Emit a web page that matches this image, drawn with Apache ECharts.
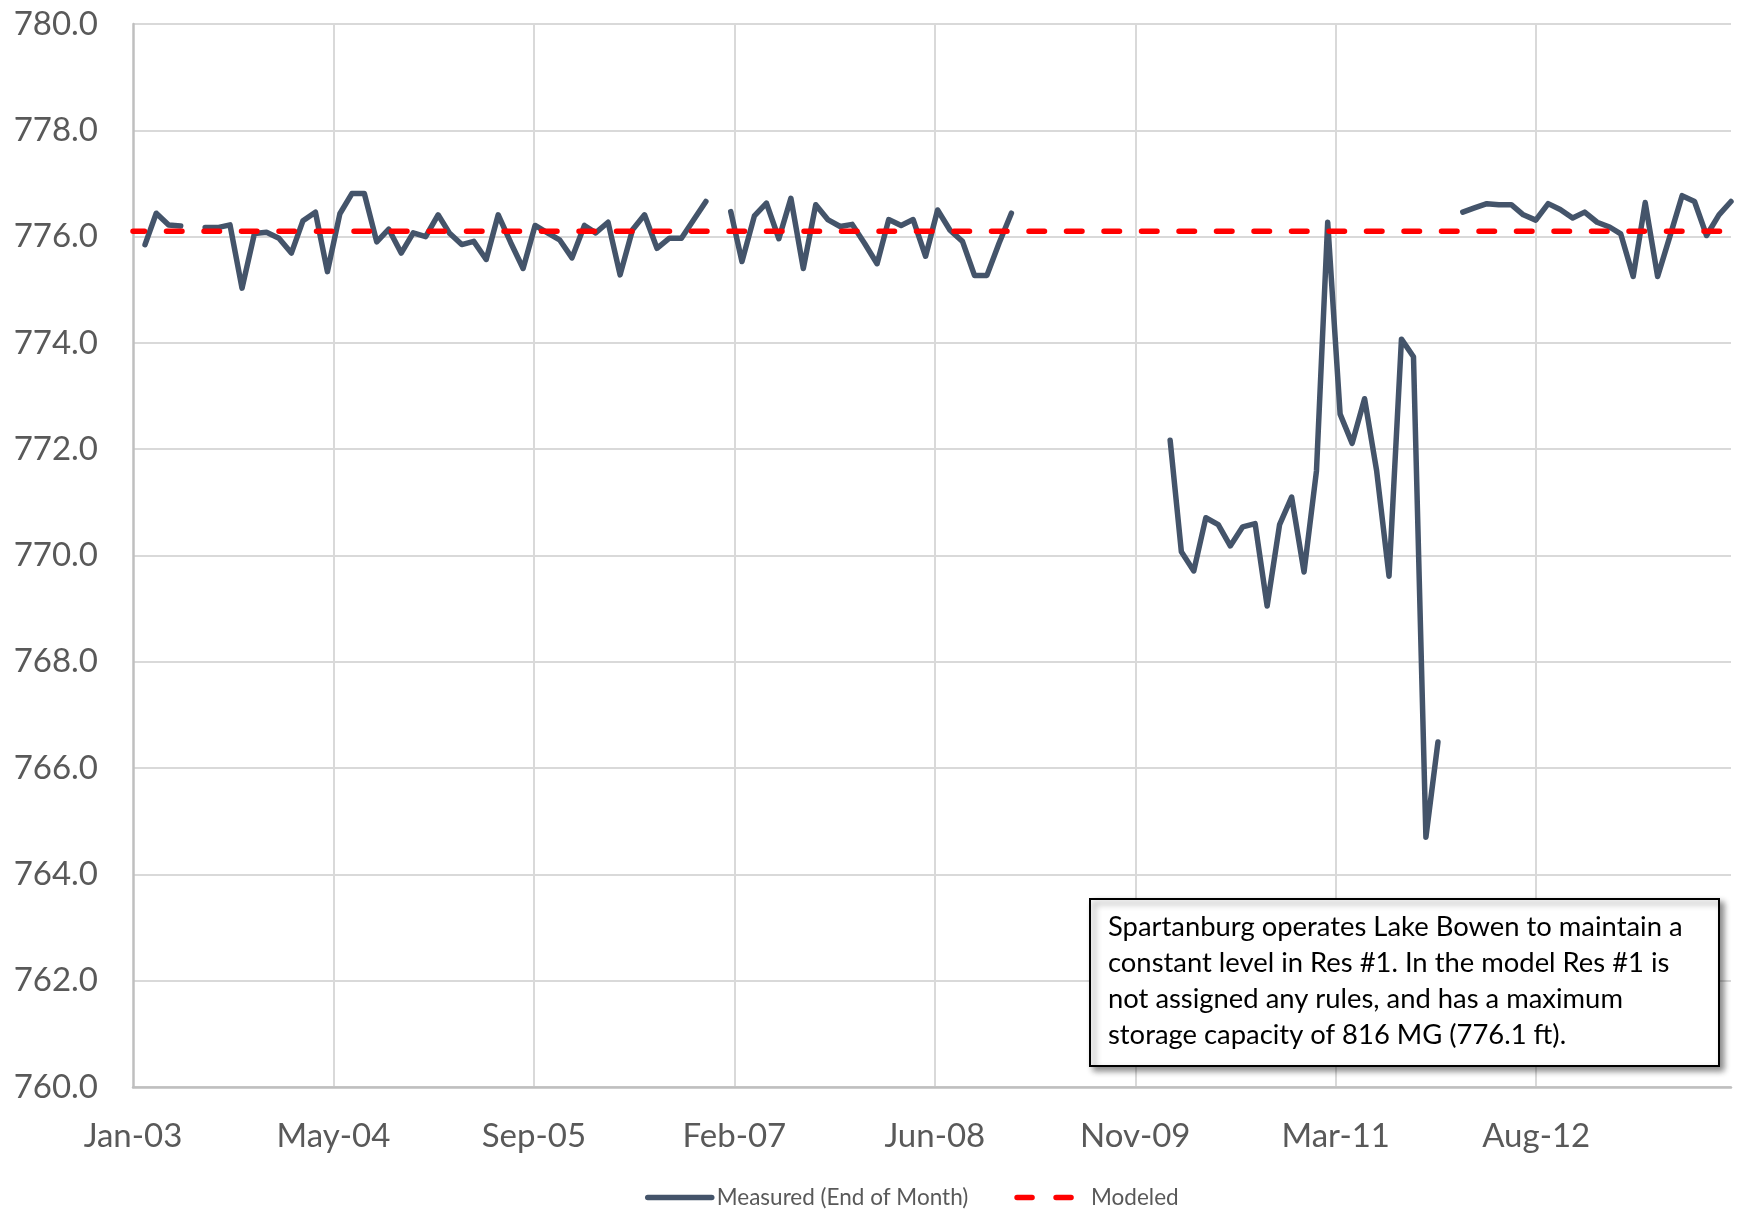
<!DOCTYPE html>
<html><head><meta charset="utf-8">
<script src="https://cdn.jsdelivr.net/npm/echarts@6/dist/echarts.min.js"></script>
<style>html,body{margin:0;padding:0;background:#fff}#c{width:1741px;height:1212px}</style>
</head><body><div id="c"></div>
<script>
// Measured end-of-month water level (ft), one array per year, Jan..Dec (null = no data)
const lvl2003 = [775.85, 776.44, 776.22, 776.20, null, 776.17, 776.17, 776.22, 775.03, 776.06, 776.08, 775.97];
const lvl2004 = [775.69, 776.30, 776.46, 775.34, 776.43, 776.81, 776.81, 775.90, 776.14, 775.69, 776.07, 776.00];
const lvl2005 = [776.41, 776.07, 775.85, 775.91, 775.57, 776.41, 775.89, 775.40, 776.21, 776.07, 775.94, 775.60];
const lvl2006 = [776.21, 776.07, 776.27, 775.28, 776.13, 776.41, 775.78, 775.97, 775.97, 776.32, 776.66, null];
const lvl2007 = [776.47, 775.53, 776.39, 776.63, 775.96, 776.72, 775.40, 776.60, 776.32, 776.19, 776.23, 775.87];
const lvl2008 = [775.49, 776.32, 776.21, 776.32, 775.63, 776.50, 776.12, 775.91, 775.27, 775.27, 775.87, 776.44];
const lvl2009 = [null, null, null, null, null, null, null, null, null, null, null, null];
const lvl2010 = [772.17, 770.07, 769.71, 770.71, 770.58, 770.18, 770.54, 770.60, 769.05, 770.58, 771.10, 769.69];
const lvl2011 = [771.59, 776.27, 772.66, 772.11, 772.95, 771.60, 769.61, 774.07, 773.74, 764.70, 766.49, null];
const lvl2012 = [776.46, 776.54, 776.62, 776.60, 776.60, 776.41, 776.31, 776.62, 776.51, 776.35, 776.46, 776.27];
const lvl2013 = [776.18, 776.05, 775.25, 776.64, 775.25, 775.99, 776.77, 776.66, 776.02, 776.41, 776.66];

const measuredYears = [[2003, lvl2003], [2004, lvl2004], [2005, lvl2005], [2006, lvl2006], [2007, lvl2007],
  [2008, lvl2008], [2009, lvl2009], [2010, lvl2010], [2011, lvl2011], [2012, lvl2012], [2013, lvl2013]];

// Modeled level (constant) and the dates it spans
const modeledLevel = 776.1;
const modeledSpan = ['2003-01-01', '2013-11-30'];

// Axis settings
const axisStart = '2003-01-01';
const axisEnd = '2013-11-30';
const tickDays = 500;
const yMin = 760, yMax = 780, yStep = 2;
const monthNames = ['Jan','Feb','Mar','Apr','May','Jun','Jul','Aug','Sep','Oct','Nov','Dec'];

const DAY = 86400000;
function parseDay(s) { const p = s.split('-').map(Number); return Date.UTC(p[0], p[1] - 1, p[2]); }
const origin = parseDay(axisStart);
function dayOffset(ms) { return Math.round((ms - origin) / DAY); }

const measuredData = [];
measuredYears.forEach(([yr, arr]) => {
  arr.forEach((v, m) => {
    const endOfMonth = Date.UTC(yr, m + 1, 0);
    measuredData.push([dayOffset(endOfMonth), v]);
  });
});
const modeledData = modeledSpan.map(s => [dayOffset(parseDay(s)), modeledLevel]);

const FONT = 'Lato';
const chart = echarts.init(document.getElementById('c'), null, { renderer: 'canvas' });
chart.setOption({
  animation: false,
  backgroundColor: '#ffffff',
  grid: { left: 133, right: 10, top: 24, bottom: 125, containLabel: false, outerBoundsMode: 'none' },
  xAxis: {
    type: 'value',
    min: 0,
    max: dayOffset(parseDay(axisEnd)),
    interval: tickDays,
    axisLine: { show: true, lineStyle: { color: '#BFBFBF', width: 2.5 } },
    axisTick: { show: false },
    splitLine: { show: true, showMinLine: false, showMaxLine: false, lineStyle: { color: '#D9D9D9', width: 2 } },
    axisLabel: {
      showMaxLabel: false,
      margin: 33,
      fontFamily: FONT, fontSize: 33, color: '#595959',
      formatter: function (v) {
        const d = new Date(origin + v * DAY);
        return monthNames[d.getUTCMonth()] + '-' + String(d.getUTCFullYear()).slice(2);
      }
    }
  },
  yAxis: {
    type: 'value',
    min: yMin, max: yMax, interval: yStep,
    axisLine: { show: true, lineStyle: { color: '#BFBFBF', width: 2.5 } },
    axisTick: { show: false },
    splitLine: { show: true, lineStyle: { color: '#D9D9D9', width: 2 } },
    axisLabel: {
      margin: 35,
      fontFamily: FONT, fontSize: 33, color: '#595959',
      formatter: v => v.toFixed(1)
    }
  },
  legend: {
    left: 640, top: 1181,
    itemWidth: 64, itemHeight: 26, itemGap: 42,
    itemStyle: { opacity: 0 },
    lineStyle: { width: 5.5 },
    textStyle: { fontFamily: FONT, fontSize: 22.5, color: '#595959' },
    data: [
      { name: 'Measured (End of Month)' },
      { name: 'Modeled', lineStyle: { type: [15, 24], dashOffset: -4 }, textStyle: { padding: [0, 0, 0, 9] } }
    ]
  },
  series: [
    {
      name: 'Measured (End of Month)', type: 'line', data: measuredData,
      symbol: 'none', showSymbol: false, connectNulls: false,
      lineStyle: { color: '#44546A', width: 5.5, cap: 'round', join: 'round' },
      itemStyle: { color: '#44546A' }, z: 2
    },
    {
      name: 'Modeled', type: 'line', data: modeledData,
      symbol: 'none', showSymbol: false,
      lineStyle: { color: '#FF0000', width: 5.5, type: [15.5, 22], dashOffset: 4, cap: 'round' },
      itemStyle: { color: '#FF0000' }, z: 3
    }
  ],
  graphic: [
    {
      type: 'rect', z: 100,
      shape: { x: 1090, y: 899, width: 629, height: 167 },
      style: { fill: '#ffffff', stroke: '#000000', lineWidth: 2,
        shadowBlur: 6, shadowOffsetX: 4, shadowOffsetY: 4, shadowColor: 'rgba(0,0,0,0.45)' }
    },
    {
      type: 'text', z: 101, x: 1108, y: 909,
      style: {
        text: 'Spartanburg operates Lake Bowen to maintain a\nconstant level in Res #1. In the model Res #1 is\nnot assigned any rules, and has a maximum\nstorage capacity of 816 MG (776.1 ft).',
        fontFamily: FONT, fontSize: 27.4, lineHeight: 36, fill: '#000000',
        verticalAlign: 'top', align: 'left'
      }
    }
  ]
});
</script>
</body></html>
